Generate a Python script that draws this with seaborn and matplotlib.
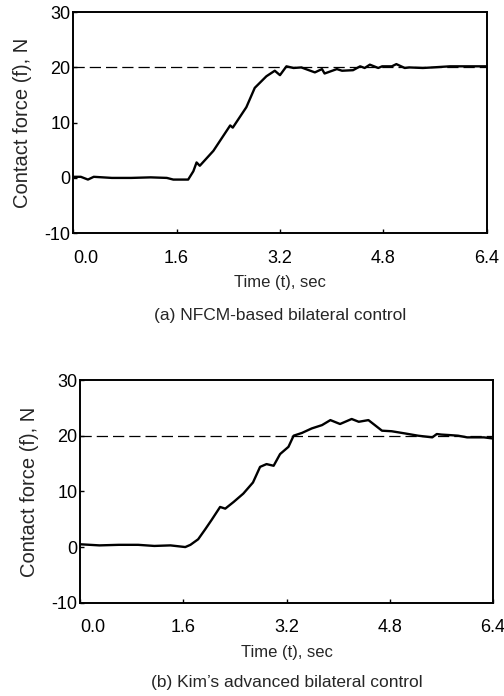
import matplotlib
matplotlib.use("Agg")
import matplotlib.pyplot as plt
import pandas as pd
import seaborn as sns

# (a) NFCM-based bilateral control
t_a = [0.0, 0.12, 0.23, 0.32, 0.6, 0.9, 1.2, 1.45, 1.55, 1.78, 1.86, 1.91, 1.96,
       2.17, 2.43, 2.47, 2.68, 2.81, 2.99, 3.12, 3.20, 3.30, 3.41, 3.53, 3.74,
       3.85, 3.89, 4.08, 4.16, 4.33, 4.44, 4.51, 4.59, 4.72, 4.78, 4.93, 5.00,
       5.13, 5.20, 5.41, 5.56, 5.83, 6.09, 6.40]
f_a = [0.2, 0.2, -0.3, 0.2, 0.0, 0.0, 0.1, 0.0, -0.3, -0.3, 1.2, 2.8, 2.2,
       4.9, 9.5, 9.1, 12.8, 16.3, 18.4, 19.4, 18.6, 20.2, 19.9, 20.0, 19.1,
       19.7, 18.9, 19.7, 19.4, 19.5, 20.2, 19.9, 20.5, 19.9, 20.2, 20.2, 20.6,
       19.9, 20.0, 19.9, 20.0, 20.2, 20.2, 20.2]

# (b) Kim's advanced bilateral control
t_b = [0.0, 0.3, 0.6, 0.9, 1.15, 1.4, 1.63, 1.71, 1.83, 1.94, 2.04, 2.17, 2.25,
       2.38, 2.53, 2.68, 2.79, 2.89, 3.00, 3.10, 3.23, 3.31, 3.44, 3.59, 3.75,
       3.88, 4.03, 4.21, 4.32, 4.47, 4.68, 4.83, 5.04, 5.24, 5.46, 5.53, 5.60,
       5.74, 5.86, 6.00, 6.26, 6.40]
f_b = [0.5, 0.3, 0.4, 0.4, 0.2, 0.3, 0.0, 0.4, 1.4, 3.2, 4.9, 7.2, 6.9,
       8.1, 9.6, 11.6, 14.4, 14.9, 14.6, 16.7, 18.0, 20.0, 20.5, 21.3, 21.9,
       22.8, 22.1, 23.0, 22.5, 22.8, 20.9, 20.8, 20.4, 20.0, 19.7, 20.3, 20.2,
       20.1, 20.0, 19.7, 19.7, 19.5]

reference = 20
xticks = [0.0, 1.6, 3.2, 4.8, 6.4]
yticks = [-10, 0, 10, 20, 30]
captions = ["(a) NFCM-based bilateral control", "(b) Kim\u2019s advanced bilateral control"]

sns.set_style("ticks")
plt.rcParams['font.family'] = ['Liberation Sans', 'DejaVu Sans']
plt.rcParams['axes.unicode_minus'] = False

fig = plt.figure(figsize=(5.04, 6.96), dpi=100)
ax_a = fig.add_axes([0.145, 0.665, 0.821, 0.3175])
ax_b = fig.add_axes([0.159, 0.134, 0.819, 0.320])
caption_y = [0.546, 0.0195]

panels = [(ax_a, t_a, f_a), (ax_b, t_b, f_b)]
for i, (ax, t, f) in enumerate(panels):
    df = pd.DataFrame({'t': t, 'f': f})
    ax.plot([0, 6.4], [reference, reference], color='black', lw=0.9,
            dashes=(9, 4), zorder=1)
    sns.lineplot(data=df, x='t', y='f', ax=ax, color='black', lw=1.7, zorder=2)
    ax.set_xlim(0, 6.4)
    ax.set_ylim(-10, 30)
    ax.set_xticks(xticks)
    ax.set_xticklabels([f"{v:.1f}" for v in xticks])
    ax.get_xticklabels()[0].set_ha('left')
    ax.set_yticks(yticks)
    ax.tick_params(direction='in', length=3, width=1, labelsize=13,
                   colors='black')
    ax.tick_params(axis='x', pad=12)
    ax.tick_params(axis='y', pad=2)
    for s in ax.spines.values():
        s.set_visible(True)
        s.set_linewidth(1.4)
        s.set_color('black')
    ax.set_xlabel("Time (t), sec", fontsize=12, labelpad=6)
    ax.set_ylabel("Contact force (f), N", fontsize=14.5, labelpad=9)
    pos = ax.get_position()
    fig.text(pos.x0 + pos.width / 2, caption_y[i], captions[i],
             ha='center', va='center', fontsize=12.5)

fig.savefig("out.png", dpi=100)
